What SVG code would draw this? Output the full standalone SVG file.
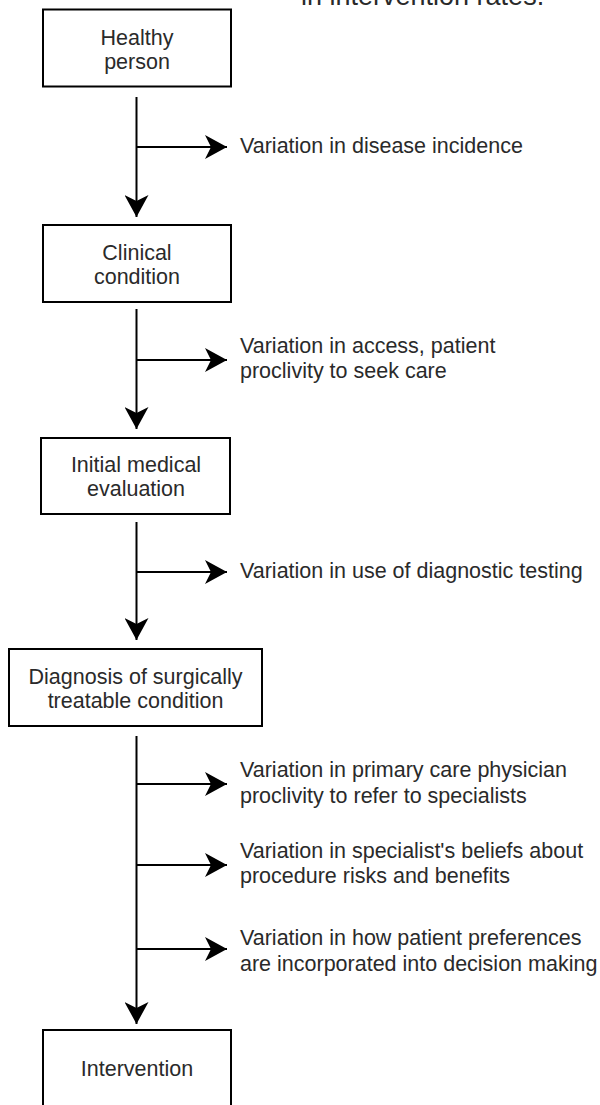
<svg xmlns="http://www.w3.org/2000/svg" width="600" height="1105" viewBox="0 0 600 1105">
<style>
.box{fill:#fff;stroke:#000;stroke-width:2}
.t{font-family:"Liberation Sans",Arial,sans-serif;font-size:21.5px;fill:#2a2a2a}
.c{text-anchor:middle}
.ln{stroke:#000;stroke-width:2;fill:none}
</style>
<defs>
<marker id="ah" viewBox="0 0 22 24" refX="22" refY="12" markerWidth="22" markerHeight="24" markerUnits="userSpaceOnUse" orient="auto">
<path d="M0,0 L22,12 L0,24 L6,12 Z" fill="#000"/>
</marker>
</defs>
<rect width="600" height="1105" fill="#fff"/>
<text class="t" x="301" y="5" style="font-size:27px">in intervention rates.</text>
<g id="n1"><rect class="box" x="43" y="9.5" width="188" height="77"/><text class="t c" x="137" y="45">Healthy</text><text class="t c" x="137" y="69">person</text></g>
<g id="n2"><rect class="box" x="43" y="225" width="188" height="77"/><text class="t c" x="137" y="260">Clinical</text><text class="t c" x="137" y="284">condition</text></g>
<g id="n3"><rect class="box" x="41" y="438" width="189" height="76"/><text class="t c" x="136" y="472">Initial medical</text><text class="t c" x="136" y="496">evaluation</text></g>
<g id="n4"><rect class="box" x="9" y="649" width="253" height="77"/><text class="t c" x="135.5" y="684">Diagnosis of surgically</text><text class="t c" x="135.5" y="708">treatable condition</text></g>
<g id="n5"><rect class="box" x="43" y="1030" width="188" height="100"/><text class="t c" x="137" y="1076">Intervention</text></g>
<g id="connectors">
<line class="ln" x1="136.5" y1="97" x2="136.5" y2="217" marker-end="url(#ah)"/>
<line class="ln" x1="136.5" y1="147" x2="227" y2="147" marker-end="url(#ah)"/>
<line class="ln" x1="136.5" y1="309" x2="136.5" y2="429" marker-end="url(#ah)"/>
<line class="ln" x1="136.5" y1="360" x2="227" y2="360" marker-end="url(#ah)"/>
<line class="ln" x1="136.5" y1="522" x2="136.5" y2="640" marker-end="url(#ah)"/>
<line class="ln" x1="136.5" y1="572" x2="227" y2="572" marker-end="url(#ah)"/>
<line class="ln" x1="136.5" y1="736" x2="136.5" y2="1024" marker-end="url(#ah)"/>
<line class="ln" x1="136.5" y1="784" x2="227" y2="784" marker-end="url(#ah)"/>
<line class="ln" x1="136.5" y1="865" x2="227" y2="865" marker-end="url(#ah)"/>
<line class="ln" x1="136.5" y1="949" x2="227" y2="949" marker-end="url(#ah)"/>
</g>
<g id="labels">
<text class="t" x="240" y="153">Variation in disease incidence</text>
<text class="t" x="240" y="353">Variation in access, patient</text>
<text class="t" x="240" y="378">proclivity to seek care</text>
<text class="t" x="240" y="578">Variation in use of diagnostic testing</text>
<text class="t" x="240" y="777">Variation in primary care physician</text>
<text class="t" x="240" y="803">proclivity to refer to specialists</text>
<text class="t" x="240" y="858">Variation in specialist's beliefs about</text>
<text class="t" x="240" y="883">procedure risks and benefits</text>
<text class="t" x="240" y="945">Variation in how patient preferences</text>
<text class="t" x="240" y="971">are incorporated into decision making</text>
</g>
</svg>
